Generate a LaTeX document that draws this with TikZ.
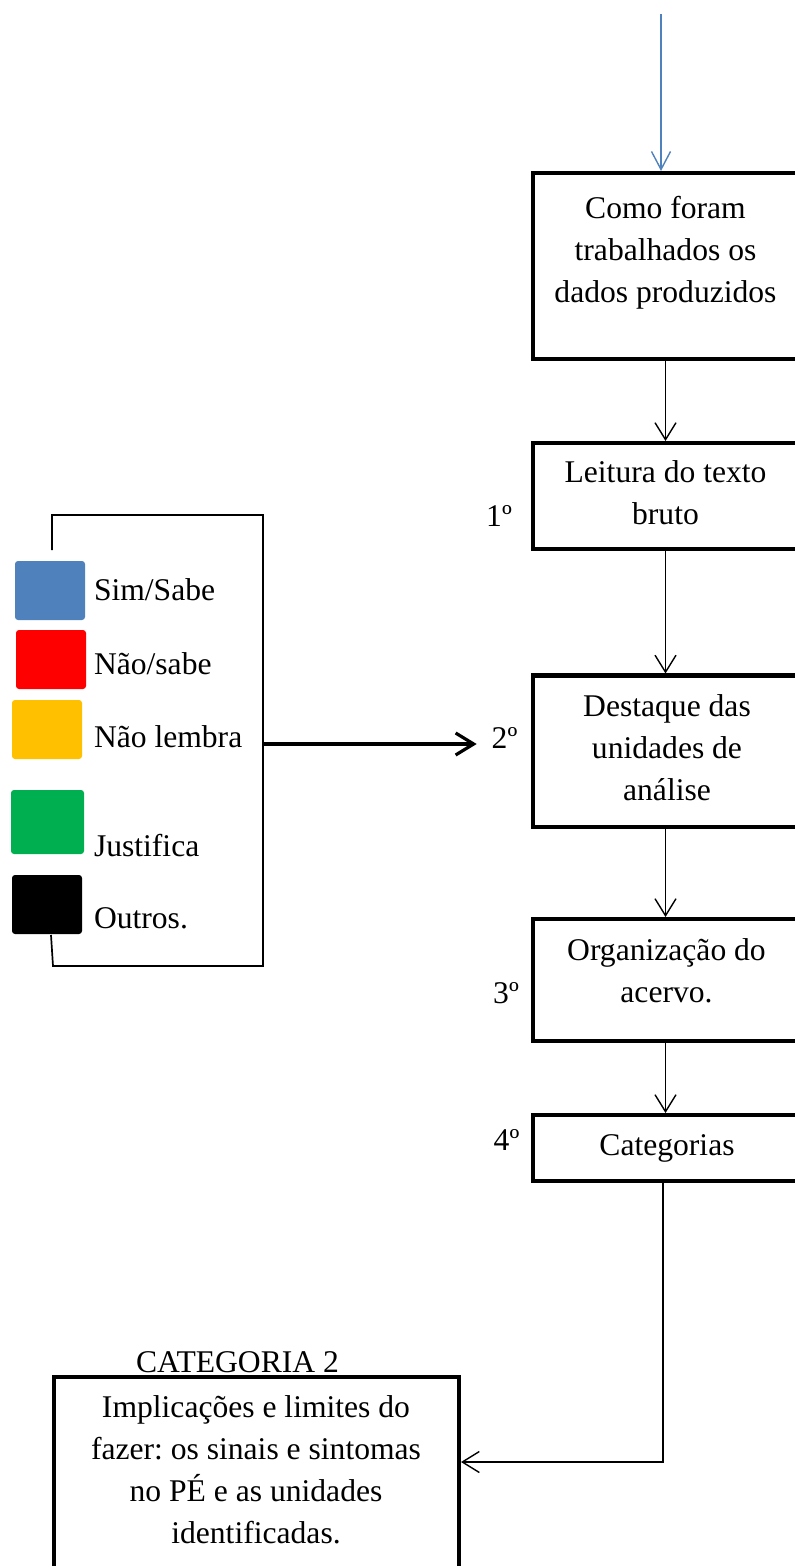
\documentclass[tikz,border=0pt]{standalone}
\usepackage{fontspec}
\setmainfont{Liberation Serif}
\frenchspacing
\usetikzlibrary{arrows.meta}
\definecolor{legblue}{HTML}{4F81BD}
\definecolor{legred}{HTML}{FF0000}
\definecolor{legorange}{HTML}{FFC000}
\definecolor{leggreen}{HTML}{00B050}
\begin{document}
\begin{tikzpicture}[x=0.5pt,y=-0.5pt,
  every node/.style={inner sep=0pt,outer sep=0pt},
  txt/.style={font=\fontsize{15.8}{21}\selectfont, align=center},
  stepbox/.style={draw, line width=2.2pt, rectangle, minimum width=132.5pt},
  conn/.style={line width=0.7pt, -{Straight Barb[length=8.5pt,width=10.5pt]}, shorten >=1pt},
  bluearr/.style={draw=legblue, line width=0.7pt, -{Straight Barb[length=9pt,width=9.5pt]}, shorten >=1pt},
  legsq/.style={rectangle, rounded corners=1.5pt, minimum width=35pt, minimum height=29.5pt},
  leglab/.style={txt, anchor=base west},
  steplab/.style={txt, anchor=base},
  bigarr/.style={line width=1.6pt, -{Straight Barb[length=9pt,width=11pt]}},
  bracket/.style={line width=0.85pt}
]
\path[use as bounding box, clip] (0,0) rectangle (795,1566);

% flow boxes
\node[stepbox, minimum height=93pt]    (b1) at (665.5,266) {};
\node[stepbox, minimum height=53pt]    (b2) at (665.5,496) {};
\node[stepbox, minimum height=75.75pt] (b3) at (665.5,751.25) {};
\node[stepbox, minimum height=61pt]    (b4) at (665.5,980) {};
\node[stepbox, minimum height=33pt]    (b5) at (665.5,1148) {};
\node[stepbox, minimum width=202.5pt, minimum height=136.5pt] (b6) at (256.5,1513.5) {};

% texts
\node[txt] (t1) at (665.5,252.4) {\strut Como foram\\trabalhados os\\dados produzidos\strut};
\node[txt] (t2) at (665.5,495.1) {\strut Leitura do texto\\bruto\strut};
\node[txt] (t3) at (667,749.6) {\strut Destaque das\\unidades de\\análise\strut};
\node[txt] (t4) at (666.5,973) {\strut Organização do\\acervo.\strut};
\node[steplab] (t5) at (667,1155) {Categorias};
\node[steplab] (cat) at (237.5,1372) {CATEGORIA 2};
\node[txt] (t6) at (256,1472) {\strut Implicações e limites do\\fazer: os sinais e sintomas\\no PÉ e as unidades\\identificadas.\strut};

% step numbers
\node[steplab] (s1) at (499,526.5) {1º};
\node[steplab] (s2) at (504.5,748) {2º};
\node[steplab] (s3) at (506,1003) {3º};
\node[steplab] (s4) at (506.5,1150) {4º};

% connectors
\coordinate (top) at (661,14);
\draw[bluearr] (top) -- (top |- b1.north);
\draw[conn] (b1.south) -- (b2.north);
\draw[conn] (b2.south) -- (b3.north);
\draw[conn] (b3.south) -- (b4.north);
\draw[conn] (b4.south) -- (b5.north);
\coordinate (k) at (663,1462);
\draw[conn] (k |- b5.south) -- (k) -- (k -| b6.east);

% legend
\node[legsq, fill=legblue]   (q1) at (50,590.5) {};
\node[legsq, fill=legred]    (q2) at (51,659.5) {};
\node[legsq, fill=legorange] (q3) at (47,729.5) {};
\node[legsq, fill=leggreen, minimum width=36.5pt, minimum height=32pt] (q4) at (47.5,822) {};
\node[legsq, fill=black]     (q5) at (47,904.5) {};
\node[leglab] (l1) at (94,600) {Sim/Sabe};
\node[leglab] (l2) at (94,674) {Não/sabe};
\node[leglab] (l3) at (94,747) {Não lembra};
\node[leglab] (l4) at (94,856) {Justifica};
\node[leglab] (l5) at (94,928) {Outros.};

\draw[bracket] (52,550) -- (52,515) -- (263,515) -- (263,966) -- (53,966) -- (51,935);
\coordinate (br) at (263,744);
\draw[bigarr, shorten >=7.5pt] (br) -- (br -| s2.west);
\end{tikzpicture}
\end{document}
